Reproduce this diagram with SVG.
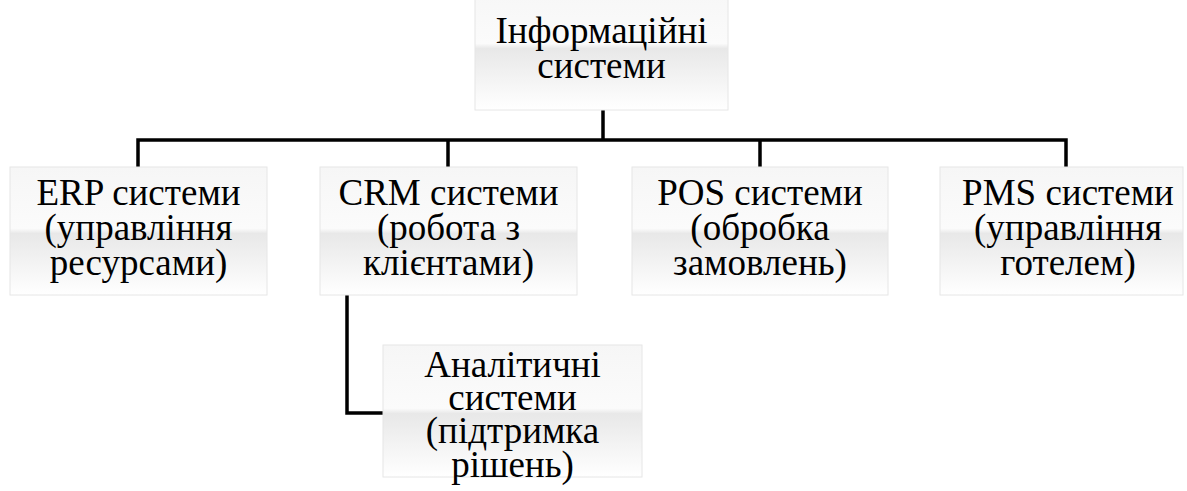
<svg xmlns="http://www.w3.org/2000/svg" width="1187" height="491" viewBox="0 0 1187 491">
  <defs>
    <linearGradient id="g" x1="0" y1="0" x2="0" y2="1">
      <stop offset="0" stop-color="#f6f6f6"/>
      <stop offset="0.48" stop-color="#fbfbfb"/>
      <stop offset="0.52" stop-color="#e8e8e8"/>
      <stop offset="1" stop-color="#ffffff"/>
    </linearGradient>
  </defs>
  <style>
    .box { fill: url(#g); stroke: #e6e6e6; stroke-width: 1; }
    .t { font-family: "Liberation Serif", "DejaVu Serif", serif; font-size: 37px; fill: #000; text-anchor: middle; }
    .c { fill: none; stroke: #000; stroke-width: 3.5; stroke-linecap: butt; stroke-linejoin: miter; }
  </style>
  <g id="connectors">
    <path class="c" d="M603 110 V140"/>
    <path class="c" d="M138 167 V140 H1066 V167"/>
    <path class="c" d="M448 140 V167"/>
    <path class="c" d="M760 140 V167"/>
    <path class="c" d="M347 295 V413 H383"/>
  </g>
  <g id="root">
    <rect class="box" x="475" y="-18" width="253" height="128"/>
    <text class="t" x="601.5" y="43">Інформаційні</text>
    <text class="t" x="601.5" y="78">системи</text>
  </g>
  <g id="erp">
    <rect class="box" x="10" y="167" width="257" height="128"/>
    <text class="t" x="138.5" y="205">ERP системи</text>
    <text class="t" x="138.5" y="240">(управління</text>
    <text class="t" x="138.5" y="275">ресурсами)</text>
  </g>
  <g id="crm">
    <rect class="box" x="320" y="167" width="257" height="128"/>
    <text class="t" x="448.5" y="205">CRM системи</text>
    <text class="t" x="448.5" y="240">(робота з</text>
    <text class="t" x="448.5" y="275">клієнтами)</text>
  </g>
  <g id="pos">
    <rect class="box" x="632" y="167" width="256" height="128"/>
    <text class="t" x="760" y="205">POS системи</text>
    <text class="t" x="760" y="240">(обробка</text>
    <text class="t" x="760" y="275">замовлень)</text>
  </g>
  <g id="pms">
    <rect class="box" x="940" y="167" width="243" height="128"/>
    <text class="t" x="1068" y="205">PMS системи</text>
    <text class="t" x="1068" y="240">(управління</text>
    <text class="t" x="1068" y="275">готелем)</text>
  </g>
  <g id="analytics">
    <rect class="box" x="383" y="345" width="259" height="132"/>
    <text class="t" x="512.5" y="377">Аналітичні</text>
    <text class="t" x="512.5" y="410">системи</text>
    <text class="t" x="512.5" y="443">(підтримка</text>
    <text class="t" x="512.5" y="477">рішень)</text>
  </g>
</svg>
